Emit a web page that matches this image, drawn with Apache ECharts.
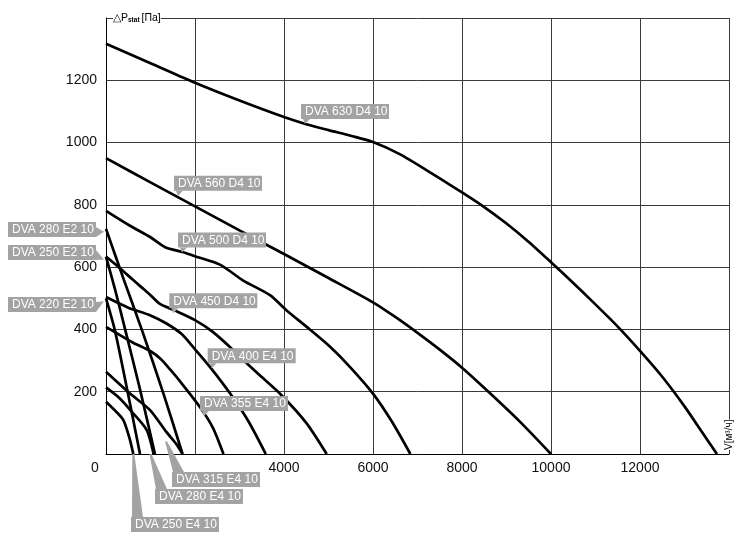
<!DOCTYPE html>
<html><head><meta charset="utf-8">
<script src="https://cdn.jsdelivr.net/npm/echarts@6/dist/echarts.min.js"></script>
<style>html,body{margin:0;padding:0;background:#fff}#c{width:742px;height:539px}</style>
</head><body><div id="c"></div>
<script>
// ---- axis ticks / labels ----
const xMin = 0, xMax = 14000, xStep = 2000;
const yMin = 0, yMax = 1400, yStep = 200;
const xLabelValues = [0, 4000, 6000, 8000, 10000, 12000];
const yLabelValues = [200, 400, 600, 800, 1000, 1200];

// ---- curves: [airflow m3/h, static pressure Pa] ----
const dva630D4 = [[0,1317],[1000,1255],[2000,1192],[3000,1135],[4000,1082],[4500,1059],[5000,1040],[5500,1022],[6000,1002],[6600,963],[7300,903],[8000,840],[8500,793],[9000,740],[9500,681],[10000,616],[10500,549],[10900,494],[11500,409],[12000,331],[12500,248],[13000,153],[13400,69],[13730,0]];
const dva560D4 = [[0,950],[1000,872],[2000,795],[3000,718],[4000,642],[5000,565],[6000,487],[6500,440],[7000,389],[7500,335],[8000,277],[8600,199],[9300,104],[10000,0]];
const dva500D4 = [[0,781],[540,733],[1000,696],[1330,664],[1740,648],[2000,635],[2560,608],[3085,557],[3685,510],[4060,461],[4580,400],[5030,345],[5480,280],[6000,194],[6420,105],[6840,0]];
const dva450D4 = [[0,634],[300,598],[600,560],[800,535],[1000,510],[1210,482],[1530,462],[2000,430],[2400,392],[2850,335],[3120,297],[3500,247],[3950,188],[4500,100],[4960,0]];
const dva400E4 = [[0,504],[500,470],[1000,445],[1360,419],[1700,385],[1960,343],[2340,279],[2790,194],[3200,105],[3590,0]];
const dva355E4 = [[0,408],[600,358],[1000,330],[1230,305],[1450,270],[1660,234],[2110,151],[2400,85],[2640,0]];
const dva315E4 = [[0,264],[540,194],[990,141],[1360,70],[1590,30],[1720,0]];
const dva280E4 = [[0,214],[300,180],[614,130],[914,77],[1070,0]];
const dva250E4 = [[0,168],[200,140],[390,109],[520,55],[614,0]];
const dva280E2 = [[0,723],[400,560],[810,397],[1300,190],[1720,0]];
const dva250E2 = [[0,634],[200,530],[430,400],[760,210],[1100,0]];
const dva220E2 = [[0,500],[200,397],[470,211],[764,0]];

const curveNames = ['DVA 630 D4 10','DVA 560 D4 10','DVA 500 D4 10','DVA 450 D4 10','DVA 400 E4 10','DVA 355 E4 10','DVA 315 E4 10','DVA 280 E4 10','DVA 250 E4 10','DVA 280 E2 10','DVA 250 E2 10','DVA 220 E2 10'];
const curveData = [dva630D4, dva560D4, dva500D4, dva450D4, dva400E4, dva355E4, dva315E4, dva280E4, dva250E4, dva280E2, dva250E2, dva220E2];

// ---- callout anchor points (data coords on each curve) ----
const calloutAnchors = [[4472,1060],[1618,829],[1708,647],[1512,452],[2375,275],[2202,122],[1350,40],[1000,0],[614,0],[0,723],[0,634],[0,500]];
const calloutKinds = ['above','above','above','above','above','above','below','below','below','left','left','left'];

// layout (pixels) — styling only
const BOX_W = 88, BOX_H = 15;
const belowBoxTop = [472, 489, 517];
const belowBoxLeft = [172, 155, 131];
const leftBoxTop = [222, 245, 297];

const chart = echarts.init(document.getElementById('c'), null, {renderer: 'canvas'});
const series = curveNames.map((n, i) => ({
  name: n, type: 'line', data: curveData[i], showSymbol: false, smooth: 0.25,
  lineStyle: {color: '#000', width: 2.7}, silent: true, z: 3
}));

chart.setOption({
  animation: false,
  grid: {left: 106, right: 13, top: 18, bottom: 85, containLabel: false},
  xAxis: {
    type: 'value', min: xMin, max: xMax, interval: xStep,
    axisLine: {show: true, lineStyle: {color: '#000', width: 1}},
    axisTick: {show: false},
    splitLine: {show: true, lineStyle: {color: '#3a3a3a', width: 1}},
    axisLabel: {
      margin: 7, fontSize: 14, color: '#111', fontFamily: 'Liberation Sans, Arial, sans-serif',
      formatter: v => v === 0 ? '{z|0}' : (xLabelValues.includes(v) ? String(v) : ''),
      rich: {z: {fontSize: 14, color: '#111', fontFamily: 'Liberation Sans, Arial, sans-serif', padding: [0, 22, 0, 0]}}
    }
  },
  yAxis: {
    type: 'value', min: yMin, max: yMax, interval: yStep,
    axisLine: {show: true, lineStyle: {color: '#000', width: 1}},
    axisTick: {show: false},
    splitLine: {show: true, lineStyle: {color: '#3a3a3a', width: 1}},
    axisLabel: {
      margin: 9, fontSize: 14, color: '#111', fontFamily: 'Liberation Sans, Arial, sans-serif',
      formatter: v => yLabelValues.includes(v) ? String(v) : ''
    }
  },
  series
});

const px = p => chart.convertToPixel({gridIndex: 0}, p);
const graphics = [];
const font = '12px "Liberation Sans", Arial, sans-serif';
const GRAY = '#a3a3a3';
let bi = 0, li = 0;
curveNames.forEach((name, i) => {
  const [ax, ay] = px(calloutAnchors[i]);
  let bx, by, poly;
  const kind = calloutKinds[i];
  if (kind === 'above') {
    bx = ax - 4; by = ay - 5 - BOX_H;
    poly = [[ax - 2, by + BOX_H], [ax + 5, by + BOX_H], [ax, ay]];
  } else if (kind === 'below') {
    bx = belowBoxLeft[bi]; by = belowBoxTop[bi]; bi++;
    poly = [[bx + 1, by], [bx + 12, by], [ax + 1, ay], [ax - 1, ay]];
  } else {
    bx = 8; by = leftBoxTop[li]; li++;
    poly = [[bx + BOX_W, by + 5], [bx + BOX_W, by + BOX_H], [ax - 2, ay + 3]];
  }
  graphics.push({type: 'polygon', shape: {points: poly}, style: {fill: GRAY}, z: 10, silent: true});
  graphics.push({type: 'rect', shape: {x: bx, y: by, width: BOX_W, height: BOX_H}, style: {fill: GRAY}, z: 10, silent: true});
  graphics.push({type: 'text', x: bx + 4, y: by + BOX_H / 2 + 0.5, style: {text: name, fill: '#fff', font, textVerticalAlign: 'middle', textAlign: 'left'}, z: 11, silent: true});
});

// axis titles
const [tx, ty] = px([0, yMax]);
graphics.push({type: 'text', x: tx + 7, y: ty, z: 12, silent: true, style: {
  text: '{a|△P}{s|stat}{a|[Па]}', textVerticalAlign: 'middle', backgroundColor: '#fff',
  rich: {a: {fontSize: 10.5, fontFamily: 'Liberation Sans, Arial, sans-serif', fill: '#000'},
         s: {fontSize: 6.5, fontWeight: 'bold', fontFamily: 'Liberation Sans, Arial, sans-serif', fill: '#000', padding: [5, 2, 0, 0]}}
}});
const [rx, ry] = px([xMax, 0]);
graphics.push({type: 'text', x: rx, y: ry - 4, rotation: Math.PI / 2, z: 12, silent: true, style: {
  text: 'V[м³/ч]', textAlign: 'left', textVerticalAlign: 'middle', backgroundColor: '#fff',
  font: '10px "Liberation Sans", Arial, sans-serif', fill: '#000'
}});

chart.setOption({graphic: graphics});
</script></body></html>
